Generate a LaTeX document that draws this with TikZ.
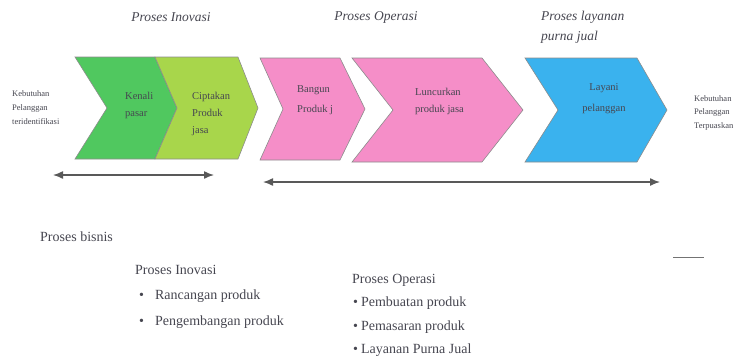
\documentclass[tikz,border=0pt]{standalone}
\usepackage{fontspec}
\setmainfont{Liberation Serif}
\usetikzlibrary{arrows.meta}
\definecolor{hijau}{RGB}{80,200,95}
\definecolor{hijaumuda}{RGB}{168,214,75}
\definecolor{merahmuda}{RGB}{245,142,200}
\definecolor{biru}{RGB}{58,178,238}
\definecolor{teks}{RGB}{70,70,80}
\begin{document}
\begin{tikzpicture}[x=1pt,y=-1pt,
  chev/.style={draw=black!45, line width=0.6pt, line join=miter},
  lbl/.style={font=\fontsize{10.5}{17}\selectfont, text=teks, align=left, inner sep=0pt, anchor=west},
  side/.style={font=\fontsize{8.5}{14}\selectfont, text=teks, align=left, anchor=north west, inner sep=0pt},
  head/.style={font=\fontsize{13.5}{20}\selectfont\itshape, text=teks, inner sep=0pt},
  body/.style={font=\fontsize{14}{17}\selectfont, text=teks, anchor=west, inner sep=0pt},
  span/.style={{Latex[length=10pt,width=8pt]}-{Latex[length=10pt,width=8pt]}, line width=1.4pt, draw=black!65}
]
\useasboundingbox (0,0) rectangle (736,360);

% chevrons of the value chain
\path[chev, fill=hijau]     (75,57) -- (155,57) -- (177,108) -- (155,159) -- (75,159) -- (107,108) -- cycle;
\path[chev, fill=hijaumuda] (155,57) -- (238,57) -- (258,108) -- (238,159) -- (155,159) -- (177,108) -- cycle;
\path[chev, fill=merahmuda] (260,58) -- (340,58) -- (365,109) -- (340,160) -- (260,160) -- (283,109) -- cycle;
\path[chev, fill=merahmuda] (352,58) -- (482,58) -- (523,110) -- (482,162) -- (352,162) -- (393,110) -- cycle;
\path[chev, fill=biru]      (525,58) -- (637,58) -- (667,110) -- (637,162) -- (525,162) -- (558,110) -- cycle;

% labels inside the chevrons
\node[lbl] (kenali)    at (125,105) {Kenali\\pasar};
\node[lbl] (ciptakan)  at (192,114) {Ciptakan\\Produk\\jasa};
\node[lbl, font=\fontsize{10.5}{20}\selectfont] (bangun) at (297,100) {Bangun\\Produk j};
\node[lbl] (luncurkan) at (415,101) {Luncurkan\\produk jasa};
\node[lbl, align=center, anchor=center, font=\fontsize{10.5}{21}\selectfont] (layani) at (604,99) {Layani\\pelanggan};

% customer needs at both ends
\node[side] (butuh)  at (12,90)  {Kebutuhan\\Pelanggan\\teridentifikasi};
\node[side, font=\fontsize{8.5}{13.5}\selectfont] (puas) at (694,95) {Kebutuhan\\Pelanggan\\Terpuaskan};

% stage headings
\node[head] (hInovasi) at (171,17) {Proses Inovasi};
\node[head] (hOperasi) at (376,17) {Proses Operasi};
\node[head, anchor=west] (hLayanan) at (541,17) {Proses layanan};
\node[head, anchor=west] (hPurna)   at (541,37) {purna jual};

% spans of the stages
\coordinate (spanAL) at (53,175);
\coordinate (spanAR) at (214,175);
\coordinate (spanBL) at (263,182);
\coordinate (spanBR) at (660,182);
\draw[span] (spanAL) -- (spanAR);
\draw[span] (spanBL) -- (spanBR);

% short rule at the right
\coordinate (ruleL) at (673,257);
\coordinate (ruleR) at (704,257);
\draw[draw=black!55, line width=0.8pt] (ruleL) -- (ruleR);

% business process lists
\node[body] (bisnis) at (40,237) {Proses bisnis};

\node[body] (lInovasi) at (135,270) {Proses Inovasi};
\node[body] (i1) at (139,296) {\textbullet\hspace{11pt}Rancangan produk};
\node[body] (i2) at (139,322) {\textbullet\hspace{11pt}Pengembangan produk};

\node[body] (lOperasi) at (352,280) {Proses Operasi};
\node[body] (o1) at (353,303) {\textbullet\hspace{3pt}Pembuatan produk};
\node[body] (o2) at (353,327) {\textbullet\hspace{3pt}Pemasaran produk};
\node[body] (o3) at (353,350) {\textbullet\hspace{3pt}Layanan Purna Jual};
\end{tikzpicture}
\end{document}
